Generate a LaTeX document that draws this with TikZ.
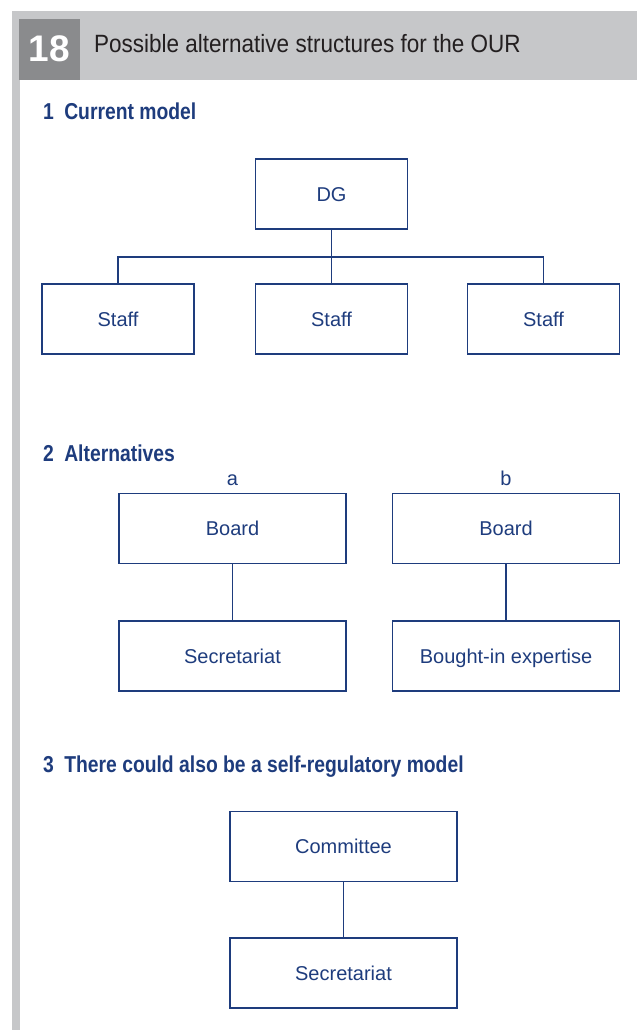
\documentclass[tikz,border=0pt]{standalone}
\usepackage{fontspec}
\setmainfont{Liberation Sans}
\newfontfamily\headfont[FakeStretch=0.9]{Liberation Sans}
\newfontfamily\sectfont[FakeStretch=0.84]{Liberation Sans}

\definecolor{ourblue}{RGB}{30,60,125}
\definecolor{bandgrey}{RGB}{198,199,201}
\definecolor{numgrey}{RGB}{138,139,141}
\definecolor{inkblack}{RGB}{35,31,32}

\begin{document}
\begin{tikzpicture}[x=1pt, y=-1pt,
  box/.style={draw=ourblue, line width=1.2pt, minimum width=152pt, minimum height=70pt,
    inner sep=0pt, text=ourblue, text height=14.4pt, text depth=0pt,
    font=\fontsize{20}{24}\selectfont},
  widebox/.style={box, minimum width=227pt},
  sect/.style={anchor=base west, inner sep=0pt, text=ourblue,
    font=\sectfont\bfseries\fontsize{23}{28}\selectfont},
  tag/.style={anchor=base, inner sep=0pt, text=ourblue, font=\fontsize{20}{24}\selectfont},
  link/.style={draw=ourblue, line width=1.2pt}]

\useasboundingbox (0,0) rectangle (637,1030);

% header band, number tab and side bar
\fill [bandgrey] (12,11) rectangle (637,80);
\fill [bandgrey] (12,80) rectangle (20,1030);
\fill [numgrey] (19,19) rectangle (80,80);
\node (num) at (49.5,49) [text=white, inner sep=0pt, font=\bfseries\fontsize{37}{40}\selectfont] {18};
\node (head) at (94,53) [anchor=base west, inner sep=0pt, text=inkblack,
  font=\headfont\fontsize{25}{30}\selectfont] {Possible alternative structures for the OUR};

% 1: current model
\node (sec1) at (43,120) [sect] {1\hspace{0.45em}Current model};
\node (dg) [box] at (331.5,194) {DG};
\node (s1) [box] at (118,319) {Staff};
\node (s2) [box] at (331.5,319) {Staff};
\node (s3) [box] at (543.5,319) {Staff};
\coordinate (bus) at (331.5,257);
\draw [link] (dg.south) -- (s2.north);
\draw [link] (s1.north) |- (bus) -| (s3.north);

% 2: alternatives
\node (sec2) at (43,461) [sect] {2\hspace{0.45em}Alternatives};
\node (taga) at (232.5,485) [tag] {a};
\node (tagb) at (506,485) [tag] {b};
\node (boarda) [widebox] at (232.5,528.5) {Board};
\node (secra) [widebox] at (232.5,656) {Secretariat};
\node (boardb) [widebox] at (506,528.5) {Board};
\node (buyin) [widebox] at (506,656) {Bought-in expertise};
\draw [link] (boarda) -- (secra);
\draw [link] (boardb) -- (buyin);

% 3: self-regulation
\node (sec3) at (43,772) [sect] {3\hspace{0.45em}There could also be a self-regulatory model};
\node (cttee) [widebox] at (343.5,846.5) {Committee};
\node (secrc) [widebox] at (343.5,973) {Secretariat};
\draw [link] (cttee) -- (secrc);

\end{tikzpicture}
\end{document}
